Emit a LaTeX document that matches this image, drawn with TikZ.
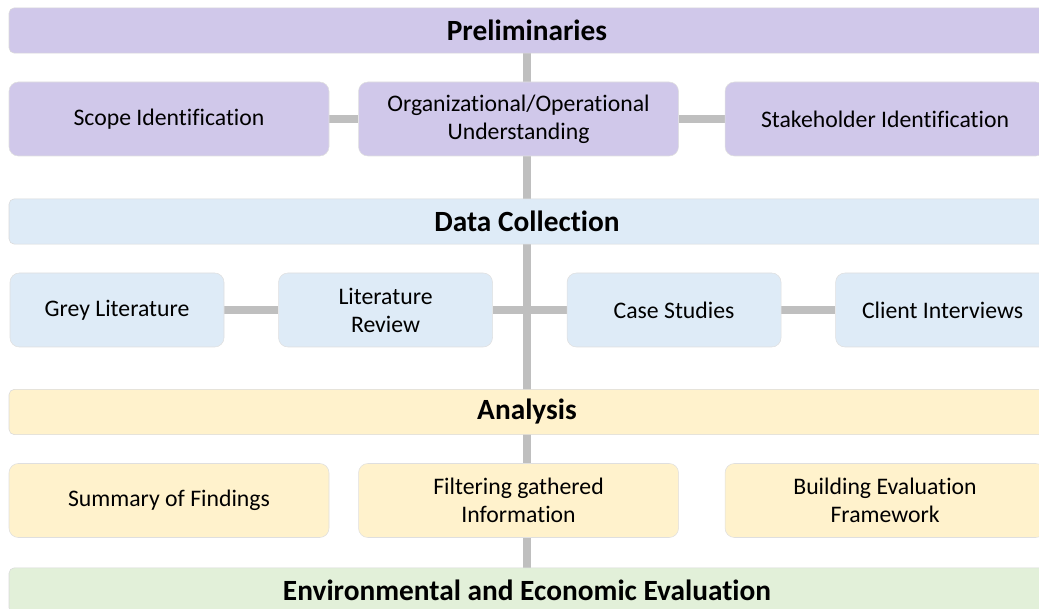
\documentclass[tikz,border=0pt]{standalone}
\usepackage{fontspec}
\setmainfont[Ligatures=NoCommon]{Carlito}
\usetikzlibrary{positioning, backgrounds}

\definecolor{prelimfill}{HTML}{D0C8EA}
\definecolor{datafill}{HTML}{DEEBF7}
\definecolor{analysisfill}{HTML}{FFF2CC}
\definecolor{evalfill}{HTML}{E2F0D9}
\definecolor{linkgray}{HTML}{BFBFBF}

\begin{document}
\begin{tikzpicture}[x=0.75pt, y=-0.75pt,
    stage/.style={rectangle, rounded corners=4pt, draw=gray!30, line width=0.4pt,
        minimum width=777pt, minimum height=34pt,
        font=\fontsize{22}{26}\selectfont\bfseries},
    task/.style={rectangle, rounded corners=7pt, draw=gray!25, line width=0.4pt,
        minimum width=240pt, minimum height=55.5pt, align=center,
        font=\fontsize{17.8}{21}\selectfont},
    small/.style={task, minimum width=160.5pt},
    link/.style={draw=linkgray, line width=6pt}]
    \clip (0,0) rectangle (1039,609);

    % stage banners
    \node (Preliminaries) [stage, fill=prelimfill] at (527,30.5) {Preliminaries};
    \node (DataCollection) [stage, fill=datafill] at (527,221.5) {Data Collection};
    \node (Analysis) [stage, fill=analysisfill] at (527,412) {Analysis};
    \node (EnvEval) [stage, fill=evalfill] at (527,590.5) {Environmental and Economic Evaluation};

    % preliminaries
    \node (ScopeId) [task, fill=prelimfill] at (169,119) {Scope Identification};
    \node (OrgUnderstanding) [task, fill=prelimfill, right=21.75pt of ScopeId] {Organizational/Operational\\Understanding};
    \node (StakeholderId) [task, fill=prelimfill, right=34.5pt of OrgUnderstanding] {Stakeholder Identification};

    % data collection
    \node (GreyLit) [small, fill=datafill] at (117,310) {Grey Literature};
    \node (LitReview) [small, fill=datafill, right=40.5pt of GreyLit] {Literature\\Review};
    \node (CaseStudies) [small, fill=datafill, right=55.5pt of LitReview] {Case Studies};
    \node (ClientInterviews) [small, fill=datafill, right=40.5pt of CaseStudies] {Client Interviews};

    % analysis
    \node (Summary) [task, fill=analysisfill] at (169,500.5) {Summary of Findings};
    \node (Filtering) [task, fill=analysisfill, right=21.75pt of Summary] {Filtering gathered\\Information};
    \node (Framework) [task, fill=analysisfill, right=34.5pt of Filtering] {Building Evaluation\\Framework};

    \begin{pgfonlayer}{background}
        % spine and side links
        \draw[link] (Preliminaries.center) -- (EnvEval.center);
        \draw[link] (ScopeId) -- (OrgUnderstanding);
        \draw[link] (OrgUnderstanding) -- (StakeholderId);
        \draw[link] (GreyLit) -- (LitReview);
        \draw[link] (LitReview) -- (CaseStudies);
        \draw[link] (CaseStudies) -- (ClientInterviews);
    \end{pgfonlayer}
\end{tikzpicture}
\end{document}
